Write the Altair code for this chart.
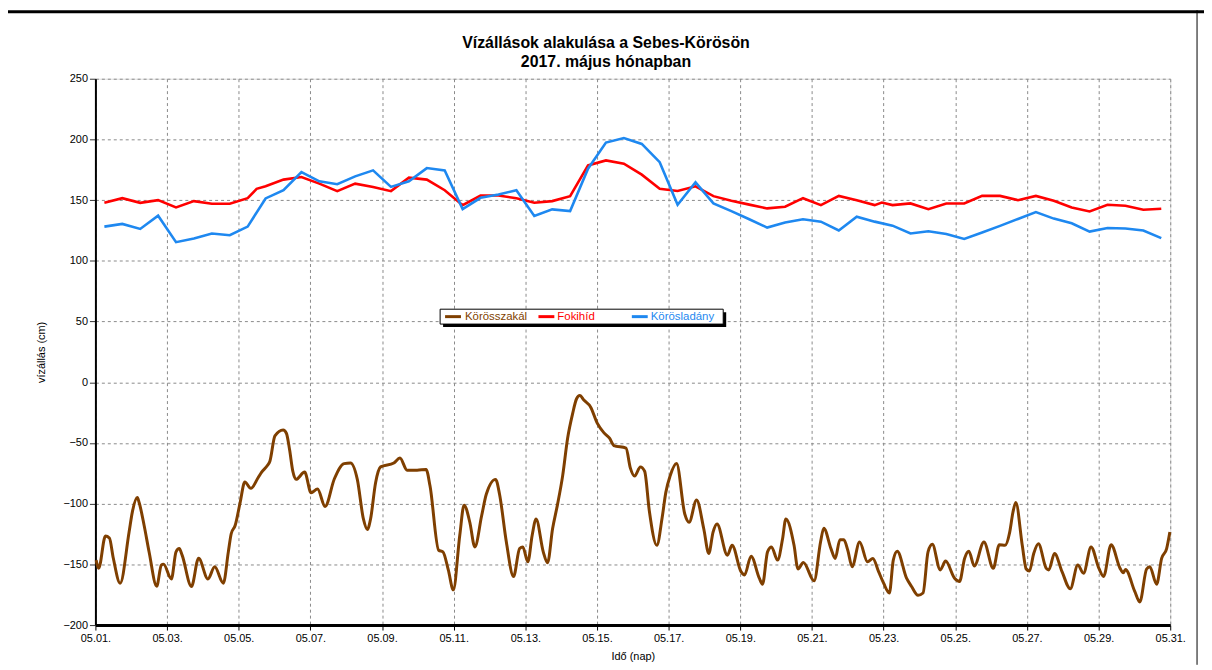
import altair as alt
import pandas as pd
import numpy as np

# ---------------- data (day of May 2017, fractional) ----------------
series_names = ["Körösszakál", "Fokihíd", "Körösladány"]
series_colors = ["#7f3f00", "#ff0000", "#1e88f0"]

red_day = [1.25, 1.75, 2.25, 2.75, 3.25, 3.75, 4.25, 4.75, 5.25, 5.5, 5.75, 6.25, 6.75,
           7.25, 7.75, 8.25, 8.75, 9.25, 9.75, 10.25, 10.75, 11.25, 11.75, 12.25, 12.75,
           13.25, 13.75, 14.25, 14.75, 15.25, 15.75, 16.25, 16.75, 17.25, 17.75, 18.25,
           18.75, 19.25, 19.75, 20.25, 20.75, 21.25, 21.75, 22.25, 22.75, 22.95, 23.25,
           23.75, 24.25, 24.75, 25.25, 25.75, 26.25, 26.75, 27.25, 27.75, 28.25, 28.75,
           29.25, 29.75, 30.25, 30.75]
red_val = [147.8, 151.6, 147.8, 150, 144, 149.2, 147, 147, 151.6, 159.3, 161.4, 166.9, 169,
           163.6, 157.4, 163.6, 160.9, 157.4, 168.5, 166.9, 158.2, 145.9, 153.8, 153.8, 151.6,
           147.8, 149.2, 153.3, 178.6, 182.7, 180, 171, 159.3, 157.6, 161.4, 153.3,
           149.5, 146.3, 143.2, 144.6, 151.6, 145.9, 153.5, 150, 145.9, 148, 145.9,
           147.3, 142.6, 147.3, 147.3, 153.5, 153.5, 150, 153.5, 149.5, 144, 140.7,
           146.2, 145.4, 142.1, 142.9]

blue_day = [1.25, 1.75, 2.25, 2.75, 3.25, 3.75, 4.25, 4.75, 5.25, 5.75, 6.25, 6.75,
            7.25, 7.75, 8.25, 8.75, 9.25, 9.75, 10.25, 10.75, 11.25, 11.75, 12.25, 12.75,
            13.25, 13.75, 14.25, 14.75, 15.25, 15.75, 16.25, 16.75, 17.25, 17.75, 18.25,
            18.75, 19.25, 19.75, 20.25, 20.75, 21.25, 21.75, 22.25, 22.75, 23.25,
            23.75, 24.25, 24.75, 25.25, 25.75, 26.25, 26.75, 27.25, 27.75, 28.25, 28.75,
            29.25, 29.75, 30.25, 30.75]
blue_val = [128.2, 130.4, 126.3, 137.2, 115.4, 118.4, 122.5, 121.1, 128.2, 151.4, 158.2, 173.1,
            165.5, 163.1, 169.6, 174.5, 160.9, 165.5, 176.4, 174.5, 142.6, 151.9, 154.6, 158.2,
            136.9, 142.4, 141, 175.9, 197.4, 201.2, 196.3, 181.3, 146.2, 164.7, 147.3,
            141, 134.3, 127.4, 131.5, 134.2, 132.3, 125, 136.4, 132.3, 129,
            122.5, 124.4, 122.2, 118.1, 123.3, 128.8, 134.5, 140.2, 134.8, 130.9, 124.1,
            127.1, 126.6, 125, 118.7]

brown_day = [1.02, 1.09, 1.28, 1.39, 1.50, 1.69, 1.94, 2.03, 2.17, 2.22, 2.36, 2.50, 2.71,
             2.84, 2.90, 3.12, 3.25, 3.34, 3.42, 3.68, 3.88, 4.14, 4.33, 4.57, 4.71, 4.79,
             4.90, 5.04, 5.17, 5.34, 5.54, 5.64, 5.80, 5.87, 6.01, 6.24, 6.33, 6.42, 6.51,
             6.60, 6.84, 7.02, 7.20, 7.41, 7.67, 7.94, 8.12, 8.31, 8.48, 8.59, 8.68, 8.82,
             8.96, 9.33, 9.50, 9.70, 9.98, 10.23, 10.34, 10.58, 10.70, 10.85, 10.99,
             11.17, 11.29, 11.45, 11.59, 11.78, 11.91, 12.17, 12.28, 12.47, 12.67, 12.84,
             12.93, 13.07, 13.19, 13.30, 13.50, 13.62, 13.76, 13.90, 14.04, 14.18, 14.32,
             14.43, 14.52, 14.64, 14.82, 15.01, 15.19, 15.35, 15.47, 15.81, 15.93, 16.05,
             16.21, 16.33, 16.46, 16.67, 16.82, 16.92, 17.04, 17.22, 17.45, 17.57, 17.78,
             17.98, 18.12, 18.24, 18.35, 18.64, 18.77, 19.02, 19.12, 19.30, 19.53, 19.62,
             19.76, 19.87, 20.04, 20.18, 20.27, 20.50, 20.61, 20.76, 21.06, 21.24, 21.33,
             21.53, 21.65, 21.78, 21.89, 22.00, 22.12, 22.33, 22.55, 22.70, 22.86, 23.00,
             23.16, 23.27, 23.38, 23.64, 23.78, 23.96, 24.10, 24.24, 24.36, 24.58, 24.73,
             24.98, 25.12, 25.26, 25.38, 25.53, 25.80, 26.06, 26.23, 26.39, 26.52, 26.61,
             26.69, 26.87, 26.98, 27.07, 27.19, 27.32, 27.54, 27.61, 27.77, 27.98, 28.21,
             28.42, 28.58, 28.79, 29.01, 29.14, 29.35, 29.60, 29.69, 29.75, 30.01, 30.15,
             30.34, 30.43, 30.62, 30.76, 30.90, 30.99]
brown_val = [-146.5, -153.3, -126.7, -128.3, -145, -165.5, -123.4, -107, -95, -99, -118, -140, -168,
             -150.6, -149.8, -162, -139.7, -137, -142.4, -168.2, -145, -162, -152, -165.5, -139.7, -124.8,
             -118, -99, -82.2, -87.4, -78.7, -74, -68.6, -65, -44.2, -39.3, -42, -55.6, -73.3,
             -80, -74, -91, -88, -102.3, -79.5, -67, -66.5, -80, -112.6, -121.3, -112.6, -82.7,
             -69.7, -66.5, -62.4, -72.4, -72.4, -71.9, -85.5, -138.4, -139.7, -154.6, -171,
             -126, -101.2, -115.3, -135.6, -110, -92.2, -80, -92.2, -131.6, -160, -137,
             -135.6, -147.9, -126.2, -112.6, -139.7, -148.7, -120.7, -100.4, -77.3, -46.1, -25.8,
             -13.6, -10.9, -14.9, -20.3, -33.9, -41.5, -46.1, -52.1, -54.3, -70.5, -77.3,
             -69.7, -73.3, -105.8, -134.3, -111.2, -90.9, -77.3, -67, -108.5, -115.3, -96.9,
             -120.7, -141, -123.4, -116.7, -142.4, -134.3, -156, -158.7, -143.2, -161.4, -166.3,
             -139.7, -135.6, -146.5, -128.9, -112.6, -134.3, -153.8, -148.4, -163.6, -131.6, -120.2,
             -137, -145.1, -129.7, -129.7, -138.4, -151.9, -131.6, -147.9, -145.1, -156, -165.5,
             -173.6, -146.5, -139.2, -161.4, -168.2, -175.5, -173.6, -139.7, -133.5, -154.6, -147.3,
             -161.4, -164.1, -145.1, -139.2, -151.4, -131.6, -153.3, -133.8, -134.3, -123.4, -107.1,
             -99, -134.3, -153.8, -155.5, -141, -133, -153.3, -154.6, -141, -156, -170.1,
             -150.6, -157.3, -135.6, -153.3, -160, -133.8, -153.3, -156.9, -154.2, -172.3, -181,
             -153.8, -151.9, -166.3, -145.1, -137, -123.4]

title_lines = ["Vízállások alakulása a Sebes-Körösön", "2017. május hónapban"]
y_title = "vízállás (cm)"
x_title = "Idő (nap)"

# ---------------- build tables ----------------
base = pd.Timestamp("2017-05-01")


def to_times(days):
    t = base + pd.to_timedelta(np.array(days) - 1.0, unit="D")
    return t.strftime("%Y-%m-%dT%H:%M:%S")


df_top = pd.concat([
    pd.DataFrame({"t": to_times(red_day), "v": red_val, "s": series_names[1]}),
    pd.DataFrame({"t": to_times(blue_day), "v": blue_val, "s": series_names[2]}),
])
df_brown = pd.DataFrame({"t": to_times(brown_day), "v": brown_val, "s": series_names[0]})

FONT = "Liberation Sans"
color_scale = alt.Scale(domain=series_names, range=series_colors)

x_enc = alt.X(
    "t:T",
    scale=alt.Scale(domain=[alt.DateTime(year=2017, month=5, date=1),
                            alt.DateTime(year=2017, month=5, date=31)]),
    axis=alt.Axis(
        values=[alt.DateTime(year=2017, month=5, date=d) for d in range(1, 32, 2)],
        format="%m.%d.", title=x_title, labelFont=FONT, labelFontSize=11,
        labelColor="black", titleFont=FONT, titleFontSize=11, titleFontWeight="normal",
        titleColor="black", grid=True, gridDash=[3, 3], gridColor="#8a8a8a",
        domainColor="black", domainWidth=3, tickColor="black", tickSize=5,
        labelPadding=3, titlePadding=7, labelOverlap=False, labelFlush=False,
    ),
)
y_enc = alt.Y(
    "v:Q",
    scale=alt.Scale(domain=[-200, 250], nice=False, zero=False),
    axis=alt.Axis(
        values=[-200 + 12.5 * i for i in range(37)],
        labelExpr="datum.value % 50 == 0 ? format(datum.value, 'd') : ''",
        title=y_title, labelFont=FONT, labelFontSize=11, labelColor="black",
        titleFont=FONT, titleFontSize=11, titleFontWeight="normal", titleColor="black",
        grid=True, gridDash=[3, 3], gridColor="#8a8a8a",
        gridOpacity={"condition": {"test": "datum.value % 50 == 0", "value": 1}, "value": 0},
        tickSize={"condition": {"test": "datum.value % 50 == 0", "value": 6}, "value": 3},
        domainColor="black", domainWidth=2, tickColor="#333",
        labelPadding=2, titlePadding=16, labelOverlap=False,
    ),
)

top_lines = alt.Chart(df_top).mark_line(strokeWidth=2.6).encode(
    x=x_enc, y=y_enc,
    color=alt.Color("s:N", scale=color_scale, legend=None),
    detail="s:N",
)
brown_line = alt.Chart(df_brown).mark_line(strokeWidth=3, interpolate="monotone").encode(
    x="t:T", y="v:Q",
    color=alt.Color("s:N", scale=color_scale, legend=None),
)

one = pd.DataFrame({"a": [0]})

# title
title_marks = [
    alt.Chart(one).mark_text(font=FONT, fontSize=16, fontWeight="bold", color="black",
                             baseline="middle", align="center")
    .encode(x=alt.value(514), y=alt.value(-35.5 + 19 * i), text=alt.value(line))
    for i, line in enumerate(title_lines)
]

# legend (manual, inside plot)
leg_shadow = alt.Chart(one).mark_rect(color="black").encode(
    x=alt.value(350), x2=alt.value(635), y=alt.value(235), y2=alt.value(250))
leg_box = alt.Chart(one).mark_rect(fill="white", stroke="black", strokeWidth=1).encode(
    x=alt.value(347), x2=alt.value(632), y=alt.value(232), y2=alt.value(247))
leg_items = []
for (lx, tx), name, col in zip([(352, 372), (446, 465), (540, 559)], series_names, series_colors):
    leg_items.append(alt.Chart(one).mark_rule(color=col, strokeWidth=3).encode(
        x=alt.value(lx), x2=alt.value(lx + 16), y=alt.value(239.5)))
    leg_items.append(alt.Chart(one).mark_text(font=FONT, fontSize=11.5, color=col,
                                             align="left", baseline="middle").encode(
        x=alt.value(tx), y=alt.value(240), text=alt.value(name)))

# outer frame lines
frame_top = alt.Chart(one).mark_rule(color="black", strokeWidth=3).encode(
    x=alt.value(-88), x2=alt.value(1116), y=alt.value(-67.5))
frame_right = alt.Chart(one).mark_rule(color="black", strokeWidth=1).encode(
    x=alt.value(1109), y=alt.value(-69), y2=alt.value(590))

chart = alt.layer(
    top_lines, brown_line, leg_shadow, leg_box, *leg_items, *title_marks, frame_top, frame_right
).properties(
    width=1082, height=550,
    padding={"left": 88, "top": 69, "right": 34, "bottom": 40},
    autosize=alt.AutoSizeParams(type="none"),
).configure_view(
    stroke="black", strokeWidth=1
).configure(background="white")

chart.save("out.html", embed_options={"renderer": "svg", "actions": False})
